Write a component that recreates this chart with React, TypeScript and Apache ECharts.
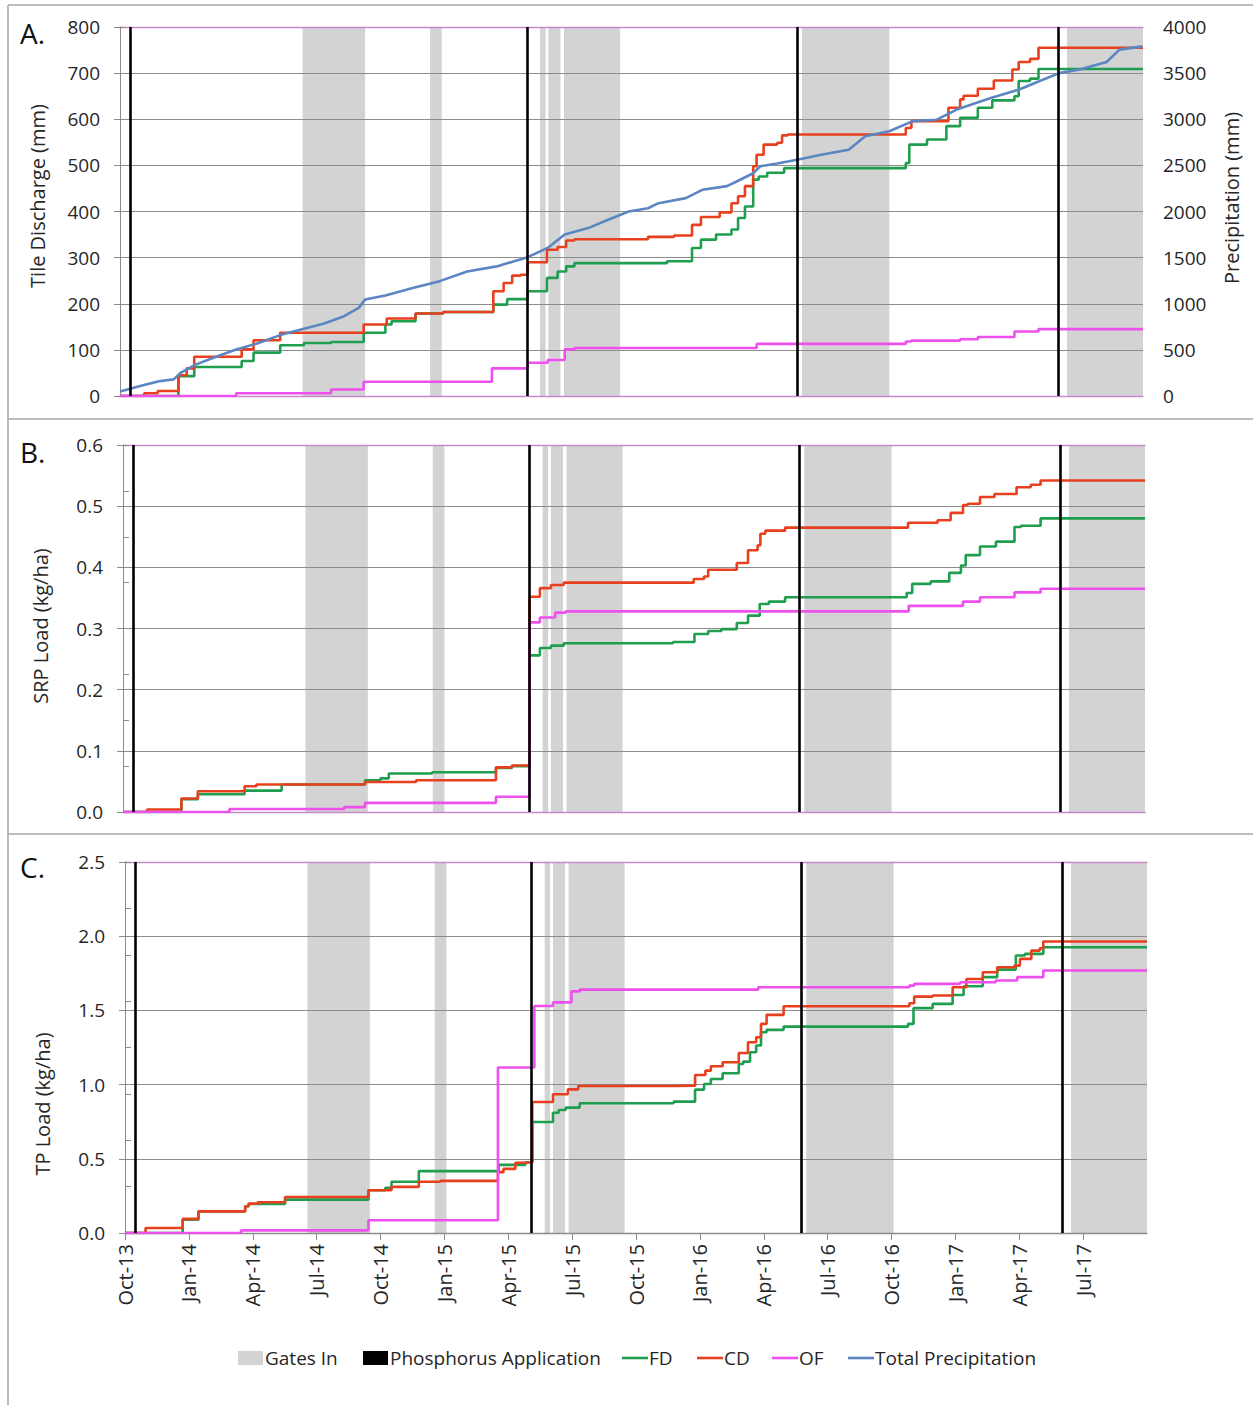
import React, { useEffect, useRef } from "react";
import * as echarts from "echarts";

const FONT = '"Open Sans", "DejaVu Sans", sans-serif';
const TEXT = "#262626";
const GRID = "#8c8c8c";
const AXIS_PURPLE = "#c58acb";

const C_FD = "#1f9e4f";
const C_CD = "#e8401f";
const C_OF = "#ee50ee";
const C_PR = "#5b86c2";
const C_GATE = "#d3d3d3";

const MONTHS = ["Jan", "Feb", "Mar", "Apr", "May", "Jun", "Jul", "Aug", "Sep", "Oct", "Nov", "Dec"];

// ---------- DATA ----------
const xStart = "2013-10-01";
const xEnd = "2017-10-01";

const gatesIn: [string, string][] = [
  ["2014-06-18", "2014-09-16"],
  ["2014-12-18", "2015-01-04"],
  ["2015-05-23", "2015-05-31"],
  ["2015-06-04", "2015-06-21"],
  ["2015-06-26", "2015-09-15"],
  ["2016-06-01", "2016-10-04"],
  ["2017-06-14", "2017-10-01"],
];

const phosphorusApplication: string[] = ["2013-10-16", "2015-05-04", "2016-05-25", "2017-06-02"];

const precipTotal: [string, number][] = [
  ["2013-10-01", 50], ["2013-11-02", 115], ["2013-11-26", 160], ["2013-12-17", 180],
  ["2013-12-27", 250], ["2014-01-18", 340], ["2014-02-17", 430], ["2014-03-15", 505],
  ["2014-04-14", 570], ["2014-05-17", 660], ["2014-06-20", 730], ["2014-07-19", 785],
  ["2014-08-17", 865], ["2014-09-07", 955], ["2014-09-16", 1045], ["2014-10-15", 1090],
  ["2014-11-23", 1170], ["2015-01-01", 1245], ["2015-02-09", 1350], ["2015-03-22", 1405],
  ["2015-05-05", 1505], ["2015-06-03", 1605], ["2015-06-27", 1750], ["2015-07-31", 1820],
  ["2015-08-29", 1910], ["2015-09-27", 2000], ["2015-10-25", 2035], ["2015-11-09", 2090],
  ["2015-12-18", 2145], ["2016-01-11", 2235], ["2016-02-15", 2275], ["2016-02-28", 2325],
  ["2016-03-23", 2415], ["2016-04-02", 2490], ["2016-04-26", 2520], ["2016-05-25", 2560],
  ["2016-06-28", 2615], ["2016-08-07", 2670], ["2016-08-31", 2815], ["2016-10-04", 2870],
  ["2016-11-07", 2980], ["2016-12-11", 2995], ["2017-01-09", 3105], ["2017-02-25", 3230],
  ["2017-04-06", 3320], ["2017-05-04", 3410], ["2017-06-03", 3500], ["2017-07-02", 3540],
  ["2017-08-10", 3620], ["2017-08-29", 3755], ["2017-09-30", 3790],
];

const cdDischarge: [string, number][] = [
  ["2013-10-01", 0], ["2013-11-05", 6], ["2013-11-24", 11], ["2013-12-24", 45],
  ["2014-01-05", 60], ["2014-01-16", 85], ["2014-03-23", 101], ["2014-04-09", 121],
  ["2014-05-17", 137], ["2014-09-14", 155], ["2014-10-17", 168], ["2014-11-27", 179],
  ["2015-01-06", 182], ["2015-03-17", 227], ["2015-04-01", 245], ["2015-04-13", 261],
  ["2015-04-25", 263], ["2015-05-05", 290], ["2015-06-02", 317], ["2015-06-17", 323],
  ["2015-06-29", 337], ["2015-07-11", 340], ["2015-10-25", 345], ["2015-12-01", 348],
  ["2015-12-27", 371], ["2016-01-09", 388], ["2016-02-05", 398], ["2016-02-21", 418],
  ["2016-03-01", 433], ["2016-03-11", 455], ["2016-03-23", 498], ["2016-03-28", 523],
  ["2016-04-07", 545], ["2016-04-26", 549], ["2016-05-03", 565], ["2016-05-11", 567],
  ["2016-10-28", 581], ["2016-11-05", 596], ["2016-12-28", 625], ["2017-01-14", 643],
  ["2017-01-19", 651], ["2017-02-08", 666], ["2017-03-01", 684], ["2017-03-28", 708],
  ["2017-04-06", 724], ["2017-04-22", 731], ["2017-05-04", 755], ["2017-10-01", 755],
];

const fdDischarge: [string, number][] = [
  ["2013-10-01", 0], ["2013-12-24", 43], ["2014-01-16", 63], ["2014-03-23", 76],
  ["2014-04-09", 94], ["2014-05-17", 110], ["2014-06-20", 115], ["2014-07-29", 117],
  ["2014-09-14", 137], ["2014-10-15", 155], ["2014-10-24", 162], ["2014-11-27", 179],
  ["2015-01-06", 182], ["2015-03-17", 198], ["2015-04-06", 210], ["2015-05-05", 227],
  ["2015-06-02", 256], ["2015-06-17", 270], ["2015-06-29", 281], ["2015-07-11", 288],
  ["2015-11-21", 292], ["2015-12-27", 321], ["2016-01-09", 339], ["2016-01-31", 350],
  ["2016-02-21", 361], ["2016-03-01", 386], ["2016-03-11", 411], ["2016-03-23", 469],
  ["2016-03-31", 476], ["2016-04-12", 484], ["2016-05-06", 494], ["2016-10-28", 505],
  ["2016-11-02", 545], ["2016-11-27", 556], ["2016-12-25", 585], ["2017-01-14", 603],
  ["2017-02-08", 625], ["2017-02-27", 641], ["2017-03-31", 650], ["2017-04-06", 683],
  ["2017-04-22", 688], ["2017-05-04", 709], ["2017-10-01", 709],
];

const ofDischarge: [string, number][] = [
  ["2013-10-01", 0], ["2014-03-15", 6], ["2014-07-29", 14], ["2014-09-14", 31],
  ["2015-03-15", 60], ["2015-05-05", 72], ["2015-06-03", 78], ["2015-06-27", 101],
  ["2015-07-11", 104], ["2016-03-28", 113], ["2016-10-28", 118], ["2016-11-05", 120],
  ["2017-01-14", 123], ["2017-02-08", 128], ["2017-03-31", 140], ["2017-05-04", 145],
  ["2017-10-01", 145],
];

const cdSrp: [string, number][] = [
  ["2013-10-01", 0], ["2013-11-05", 0.004], ["2013-12-24", 0.022], ["2014-01-17", 0.034],
  ["2014-03-23", 0.042], ["2014-04-09", 0.045], ["2014-09-12", 0.049], ["2014-11-24", 0.052],
  ["2015-03-17", 0.073], ["2015-04-09", 0.076], ["2015-05-04", 0.352], ["2015-05-19", 0.366],
  ["2015-06-04", 0.371], ["2015-06-22", 0.375], ["2015-12-26", 0.381], ["2016-01-10", 0.385],
  ["2016-01-16", 0.396], ["2016-02-25", 0.407], ["2016-03-12", 0.428], ["2016-03-26", 0.436],
  ["2016-03-30", 0.455], ["2016-04-06", 0.46], ["2016-05-04", 0.465], ["2016-10-28", 0.473],
  ["2016-12-09", 0.477], ["2016-12-28", 0.489], ["2017-01-15", 0.502], ["2017-01-22", 0.504],
  ["2017-02-08", 0.515], ["2017-02-27", 0.52], ["2017-03-31", 0.531], ["2017-04-20", 0.535],
  ["2017-05-04", 0.542], ["2017-10-01", 0.542],
];

const fdSrp: [string, number][] = [
  ["2013-10-01", 0], ["2013-12-24", 0.021], ["2014-01-17", 0.029], ["2014-03-23", 0.035],
  ["2014-05-15", 0.045], ["2014-09-12", 0.052], ["2014-10-04", 0.055], ["2014-10-16", 0.063],
  ["2014-12-17", 0.065], ["2015-03-17", 0.072], ["2015-04-09", 0.075], ["2015-05-04", 0.256],
  ["2015-05-19", 0.268], ["2015-06-04", 0.272], ["2015-06-22", 0.276], ["2015-11-26", 0.278],
  ["2015-12-27", 0.291], ["2016-01-16", 0.296], ["2016-02-04", 0.299], ["2016-02-25", 0.309],
  ["2016-03-12", 0.321], ["2016-03-29", 0.34], ["2016-04-11", 0.344], ["2016-05-04", 0.351],
  ["2016-10-26", 0.358], ["2016-11-03", 0.373], ["2016-11-29", 0.377], ["2016-12-26", 0.391],
  ["2017-01-12", 0.403], ["2017-01-19", 0.42], ["2017-02-08", 0.434], ["2017-03-01", 0.442],
  ["2017-03-28", 0.466], ["2017-04-06", 0.468], ["2017-05-04", 0.48], ["2017-10-01", 0.48],
];

const ofSrp: [string, number][] = [
  ["2013-10-01", 0], ["2014-03-01", 0.005], ["2014-08-13", 0.008], ["2014-09-12", 0.015],
  ["2015-03-17", 0.025], ["2015-05-04", 0.31], ["2015-05-19", 0.318], ["2015-06-10", 0.326],
  ["2015-06-25", 0.328], ["2016-10-29", 0.337], ["2017-01-15", 0.344], ["2017-02-08", 0.351],
  ["2017-03-28", 0.359], ["2017-05-04", 0.365], ["2017-10-01", 0.365],
];

const cdTp: [string, number][] = [
  ["2013-10-01", 0], ["2013-10-31", 0.034], ["2013-12-23", 0.095], ["2014-01-15", 0.146],
  ["2014-03-21", 0.18], ["2014-03-26", 0.198], ["2014-04-08", 0.207], ["2014-05-17", 0.243],
  ["2014-09-14", 0.288], ["2014-10-17", 0.311], ["2014-11-25", 0.345], ["2014-12-26", 0.351],
  ["2015-03-17", 0.41], ["2015-03-25", 0.432], ["2015-04-11", 0.473], ["2015-04-25", 0.477],
  ["2015-05-05", 0.883], ["2015-06-04", 0.935], ["2015-06-25", 0.968], ["2015-07-10", 0.991],
  ["2015-11-24", 0.993], ["2015-12-25", 1.065], ["2016-01-09", 1.094], ["2016-01-17", 1.124],
  ["2016-02-03", 1.151], ["2016-02-25", 1.213], ["2016-03-09", 1.285], ["2016-03-21", 1.319],
  ["2016-03-28", 1.409], ["2016-04-05", 1.47], ["2016-04-29", 1.528], ["2016-10-27", 1.548],
  ["2016-11-03", 1.593], ["2016-11-29", 1.6], ["2016-12-28", 1.656], ["2017-01-17", 1.712],
  ["2017-02-09", 1.757], ["2017-02-28", 1.791], ["2017-03-25", 1.802], ["2017-04-02", 1.847],
  ["2017-04-18", 1.903], ["2017-04-30", 1.919], ["2017-05-05", 1.964], ["2017-10-01", 1.964],
];

const fdTp: [string, number][] = [
  ["2013-10-01", 0], ["2013-12-23", 0.09], ["2014-01-15", 0.146], ["2014-03-21", 0.18],
  ["2014-03-26", 0.195], ["2014-05-17", 0.225], ["2014-09-14", 0.288], ["2014-10-08", 0.304],
  ["2014-10-17", 0.345], ["2014-11-25", 0.417], ["2015-03-18", 0.459], ["2015-04-25", 0.477],
  ["2015-05-05", 0.748], ["2015-06-04", 0.81], ["2015-06-12", 0.829], ["2015-06-22", 0.845],
  ["2015-07-12", 0.874], ["2015-11-24", 0.885], ["2015-12-25", 0.966], ["2016-01-07", 1.004],
  ["2016-01-17", 1.038], ["2016-02-03", 1.076], ["2016-02-25", 1.139], ["2016-03-02", 1.155],
  ["2016-03-12", 1.218], ["2016-03-21", 1.263], ["2016-03-28", 1.353], ["2016-04-05", 1.369],
  ["2016-04-29", 1.391], ["2016-10-25", 1.409], ["2016-11-02", 1.515], ["2016-11-29", 1.544],
  ["2016-12-28", 1.604], ["2017-01-13", 1.663], ["2017-02-09", 1.724], ["2017-02-28", 1.775],
  ["2017-03-27", 1.87], ["2017-04-09", 1.881], ["2017-05-05", 1.926], ["2017-10-01", 1.926],
];

const ofTp: [string, number][] = [
  ["2013-10-01", 0], ["2014-03-15", 0.018], ["2014-09-14", 0.086], ["2015-03-17", 1.115],
  ["2015-05-08", 1.53], ["2015-06-04", 1.554], ["2015-06-30", 1.628], ["2015-07-12", 1.64],
  ["2016-03-24", 1.656], ["2016-10-27", 1.667], ["2016-11-03", 1.679], ["2017-01-08", 1.69],
  ["2017-02-26", 1.701], ["2017-03-29", 1.724], ["2017-05-05", 1.769], ["2017-10-01", 1.769],
];

const legendItems: { label: string; kind: "box" | "line"; color: string }[] = [
  { label: "Gates In", kind: "box", color: C_GATE },
  { label: "Phosphorus Application", kind: "box", color: "#000000" },
  { label: "FD", kind: "line", color: C_FD },
  { label: "CD", kind: "line", color: C_CD },
  { label: "OF", kind: "line", color: C_OF },
  { label: "Total Precipitation", kind: "line", color: C_PR },
];

// ---------- HELPERS ----------
function toMonth(d: string): number {
  const [y, m, day] = d.split("-").map(Number);
  const idx = (y - 2013) * 12 + (m - 1) - 9;
  const dim = new Date(y, m, 0).getDate();
  return idx + (day - 1) / dim;
}

function fmtMonth(v: number): string {
  if (v >= 48) return "";
  const total = 9 + Math.round(v);
  const mon = MONTHS[total % 12];
  const yr = 2013 + Math.floor(total / 12);
  return `${mon}-${String(yr).slice(2)}`;
}

const pts = (arr: [string, number][]) => arr.map(([d, v]) => [toMonth(d), v]);

const grids = [
  { left: 120, top: 27, width: 1023, height: 369 },
  { left: 123, top: 445, width: 1022, height: 367 },
  { left: 125, top: 862, width: 1022, height: 371 },
];

function buildOption(): any {
  const xMin = toMonth(xStart);
  const xMax = toMonth(xEnd);
  const xAxes: any[] = [];
  grids.forEach((_, gi) => {
    const labeled = gi === 2;
    xAxes.push({
      type: "value", gridIndex: gi, min: xMin, max: xMax, interval: 3, position: "bottom",
      axisLine: { show: true, onZero: false, lineStyle: { color: labeled ? GRID : AXIS_PURPLE, width: 1.3 } },
      axisTick: { show: labeled, length: 7, lineStyle: { color: GRID } },
      axisLabel: {
        show: labeled, rotate: 90, margin: 11, fontSize: 20, fontFamily: FONT, color: TEXT,
        formatter: fmtMonth, showMaxLabel: false,
      },
      splitLine: { show: false },
    });
    xAxes.push({
      type: "value", gridIndex: gi, min: xMin, max: xMax, position: "top",
      axisLine: { show: true, onZero: false, lineStyle: { color: AXIS_PURPLE, width: 1.3 } },
      axisTick: { show: false }, axisLabel: { show: false }, splitLine: { show: false },
    });
  });

  const leftAxis = (gi: number, max: number, interval: number, dec: number) => ({
    type: "value", gridIndex: gi, min: 0, max, interval, position: "left",
    axisLine: { show: true, lineStyle: { color: GRID, width: 1 } },
    axisTick: { show: true, length: 6, lineStyle: { color: GRID } },
    axisLabel: {
      margin: 20, fontSize: 19, fontFamily: FONT, color: TEXT,
      formatter: (v: number) => v.toFixed(dec),
    },
    splitLine: { show: true, lineStyle: { color: GRID, width: 1 } },
  });

  const rightAxis = (gi: number, max: number, interval: number, labels: boolean) => ({
    type: "value", gridIndex: gi, min: 0, max, interval, position: "right",
    axisLine: { show: true, lineStyle: { color: GRID, width: 1 } },
    axisTick: { show: true, length: 6, lineStyle: { color: GRID } },
    axisLabel: {
      show: labels, margin: 20, fontSize: 19, fontFamily: FONT, color: TEXT,
      formatter: (v: number) => String(v),
    },
    splitLine: { show: false },
  });

  const yAxes = [
    leftAxis(0, 800, 100, 0),
    rightAxis(0, 4000, 500, true),
    leftAxis(1, 0.6, 0.1, 1),
    rightAxis(1, 8, 1, false),
    leftAxis(2, 2.5, 0.5, 1),
    rightAxis(2, 8, 1, false),
  ];

  const series: any[] = [];
  const panels = [
    { fd: fdDischarge, cd: cdDischarge, of: ofDischarge },
    { fd: fdSrp, cd: cdSrp, of: ofSrp },
    { fd: fdTp, cd: cdTp, of: ofTp },
  ];

  panels.forEach((p, gi) => {
    const xi = gi * 2;
    const yi = gi * 2;
    series.push({
      type: "line", name: "Gates In", xAxisIndex: xi, yAxisIndex: yi, data: [], z: -1, silent: true,
      markArea: {
        silent: true,
        z: -1,
        itemStyle: { color: C_GATE },
        data: gatesIn.map(([s, e]) => [{ xAxis: toMonth(s) }, { xAxis: toMonth(e) }]),
      },
    });
    const stepLine = (name: string, data: [string, number][], color: string) => ({
      type: "line", name, xAxisIndex: xi, yAxisIndex: yi, data: pts(data), step: "end",
      showSymbol: false, symbol: "none", z: 3,
      lineStyle: { color, width: 2.6 }, itemStyle: { color },
    });
    if (gi === 0) {
      series.push({
        type: "line", name: "Total Precipitation", xAxisIndex: xi, yAxisIndex: 1,
        data: pts(precipTotal), showSymbol: false, symbol: "none", z: 4,
        lineStyle: { color: C_PR, width: 2.6 }, itemStyle: { color: C_PR },
      });
    }
    series.push(stepLine("FD", p.fd, C_FD));
    series.push(stepLine("CD", p.cd, C_CD));
    series.push(stepLine("OF", p.of, C_OF));
    series.push({
      type: "line", name: "Phosphorus Application", xAxisIndex: xi, yAxisIndex: yi, data: [], z: 6,
      silent: true,
      markLine: {
        silent: true, symbol: ["none", "none"], label: { show: false },
        lineStyle: { color: "#000000", width: 2.6, type: "solid" },
        data: phosphorusApplication.map((d) => ({ xAxis: toMonth(d) })),
      },
    });
  });

  // graphics: frames, panel letters, axis titles, legend
  const graphics: any[] = [];
  const frame = { stroke: "#a6a6a6", lineWidth: 1.5 };
  graphics.push({ type: "line", shape: { x1: 8, y1: 5, x2: 1253, y2: 5 }, style: frame, silent: true });
  graphics.push({ type: "line", shape: { x1: 8, y1: 5, x2: 8, y2: 1405 }, style: frame, silent: true });
  graphics.push({ type: "line", shape: { x1: 8, y1: 419, x2: 1253, y2: 419 }, style: frame, silent: true });
  graphics.push({ type: "line", shape: { x1: 8, y1: 834, x2: 1253, y2: 834 }, style: frame, silent: true });

  const letters = [
    { t: "A.", y: 33 },
    { t: "B.", y: 452 },
    { t: "C.", y: 867 },
  ];
  letters.forEach((l) =>
    graphics.push({
      type: "text", x: 20, y: l.y,
      style: { text: l.t, font: `28px ${FONT}`, fill: "#111", align: "left", verticalAlign: "middle" },
    })
  );

  const titles = [
    { t: "Tile Discharge (mm)", x: 37, y: 196 },
    { t: "SRP Load (kg/ha)", x: 40, y: 626 },
    { t: "TP Load (kg/ha)", x: 42, y: 1104 },
    { t: "Precipitation (mm)", x: 1231, y: 198 },
  ];
  titles.forEach((t) =>
    graphics.push({
      type: "text", x: t.x, y: t.y, rotation: Math.PI / 2,
      style: { text: t.t, font: `20px ${FONT}`, fill: TEXT, align: "center", verticalAlign: "middle" },
    })
  );

  const legendX = [238, 363, 622, 697, 772, 848];
  const ly = 1358;
  legendItems.forEach((it, i) => {
    const x = legendX[i];
    if (it.kind === "box") {
      graphics.push({ type: "rect", shape: { x, y: ly - 7, width: 25, height: 14 }, style: { fill: it.color } });
    } else {
      graphics.push({
        type: "line", shape: { x1: x, y1: ly, x2: x + 26, y2: ly },
        style: { stroke: it.color, lineWidth: 2.6 },
      });
    }
    graphics.push({
      type: "text", x: x + 27, y: ly,
      style: { text: it.label, font: `19px ${FONT}`, fill: TEXT, align: "left", verticalAlign: "middle" },
    });
  });

  return {
    animation: false,
    backgroundColor: "#ffffff",
    grid: grids.map((g) => ({ ...g, containLabel: false })),
    xAxis: xAxes,
    yAxis: yAxes,
    series,
    graphic: graphics,
  };
}

export default function App() {
  const ref = useRef<HTMLDivElement>(null);
  useEffect(() => {
    if (!ref.current) return;
    const chart = echarts.init(ref.current, undefined, { renderer: "svg" });
    chart.setOption(buildOption());
    return () => chart.dispose();
  }, []);
  return (
    <div
      ref={ref}
      style={{ position: "absolute", left: 0, top: 0, width: 1253, height: 1405, background: "#fff" }}
    />
  );
}
